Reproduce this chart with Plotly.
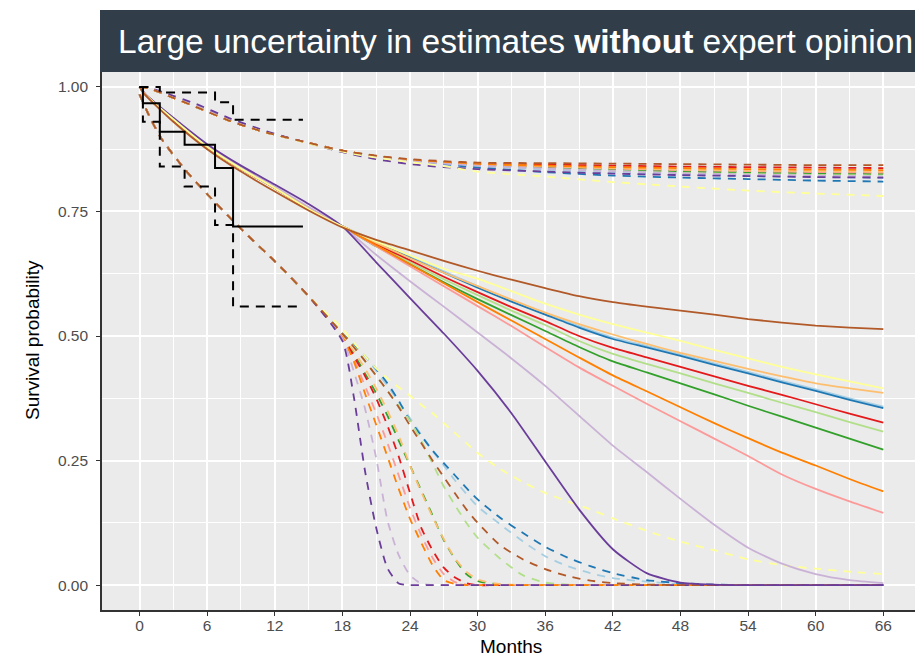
import plotly.graph_objects as go

# ---------------- data ----------------
MODEL_NAMES = ["Model 1", "Model 2", "Model 3", "Model 4", "Model 5", "Model 6",
               "Model 7", "Model 8", "Model 9", "Model 10", "Model 11", "Model 12"]
MODEL_COLORS = ["#A6CEE3", "#1F78B4", "#B2DF8A", "#33A02C", "#FB9A99", "#E31A1C",
                "#FDBF6F", "#FF7F00", "#CAB2D6", "#6A3D9A", "#FFFF99", "#B15928"]

# Kaplan-Meier with confidence limits
KM_T = [0, 0.3, 1.8, 4.0, 6.7, 8.3, 14.5]
KM_S = [1.0, 0.967, 0.91, 0.884, 0.837, 0.72, 0.72]
KM_UPPER = [1.0, 1.0, 0.989, 0.989, 0.969, 0.934, 0.934]
KM_LOWER = [1.0, 0.93, 0.84, 0.80, 0.723, 0.559, 0.559]

# Point estimates (solid)
T_SOLID = [0, 0.5, 3, 6, 9, 12, 15, 18, 21, 24, 27, 30, 33, 36, 39, 42, 45, 48, 51, 54, 57, 60, 63, 66]
SOLID_1 = [1.0, 0.985, 0.935, 0.88, 0.836, 0.797, 0.755, 0.72, 0.691, 0.66, 0.63, 0.6, 0.572, 0.546, 0.52, 0.497, 0.48, 0.463, 0.445, 0.428, 0.41, 0.393, 0.375, 0.358]
SOLID_2 = [1.0, 0.985, 0.935, 0.88, 0.836, 0.797, 0.755, 0.72, 0.688, 0.657, 0.627, 0.597, 0.569, 0.543, 0.517, 0.494, 0.477, 0.46, 0.442, 0.425, 0.407, 0.39, 0.372, 0.355]
SOLID_3 = [1.0, 0.985, 0.935, 0.88, 0.836, 0.797, 0.755, 0.72, 0.683, 0.648, 0.614, 0.582, 0.551, 0.522, 0.49, 0.464, 0.444, 0.425, 0.405, 0.386, 0.366, 0.347, 0.327, 0.308]
SOLID_4 = [1.0, 0.985, 0.935, 0.88, 0.836, 0.797, 0.755, 0.72, 0.68, 0.644, 0.608, 0.574, 0.542, 0.51, 0.478, 0.449, 0.427, 0.405, 0.383, 0.36, 0.338, 0.316, 0.294, 0.272]
SOLID_5 = [1.0, 0.985, 0.935, 0.88, 0.836, 0.797, 0.755, 0.72, 0.68, 0.64, 0.6, 0.56, 0.52, 0.478, 0.437, 0.4, 0.364, 0.329, 0.294, 0.259, 0.222, 0.193, 0.168, 0.145]
SOLID_6 = [1.0, 0.985, 0.935, 0.88, 0.836, 0.797, 0.755, 0.72, 0.685, 0.652, 0.619, 0.588, 0.558, 0.53, 0.5, 0.476, 0.457, 0.438, 0.419, 0.4, 0.382, 0.363, 0.344, 0.326]
SOLID_7 = [1.0, 0.985, 0.935, 0.88, 0.836, 0.797, 0.755, 0.72, 0.687, 0.656, 0.627, 0.6, 0.573, 0.547, 0.524, 0.503, 0.484, 0.466, 0.45, 0.434, 0.419, 0.405, 0.395, 0.386]
SOLID_8 = [1.0, 0.985, 0.935, 0.88, 0.836, 0.797, 0.755, 0.72, 0.682, 0.644, 0.606, 0.568, 0.531, 0.494, 0.457, 0.421, 0.389, 0.357, 0.325, 0.295, 0.266, 0.24, 0.213, 0.188]
SOLID_9 = [1.0, 0.985, 0.936, 0.882, 0.839, 0.8, 0.759, 0.72, 0.663, 0.61, 0.559, 0.507, 0.455, 0.4, 0.34, 0.28, 0.227, 0.173, 0.121, 0.075, 0.043, 0.022, 0.01, 0.004]
SOLID_10 = [1.0, 0.986, 0.938, 0.885, 0.842, 0.804, 0.765, 0.72, 0.648, 0.576, 0.505, 0.43, 0.345, 0.248, 0.152, 0.072, 0.024, 0.005, 0.001, 0.0, 0.0, 0.0, 0.0, 0.0]
SOLID_11 = [1.0, 0.985, 0.935, 0.88, 0.836, 0.797, 0.755, 0.72, 0.69, 0.662, 0.635, 0.615, 0.59, 0.565, 0.543, 0.524, 0.507, 0.49, 0.472, 0.455, 0.438, 0.423, 0.409, 0.395]
SOLID_12 = [1.0, 0.984, 0.93, 0.875, 0.83, 0.79, 0.752, 0.718, 0.693, 0.672, 0.651, 0.631, 0.613, 0.596, 0.58, 0.568, 0.559, 0.551, 0.543, 0.534, 0.527, 0.521, 0.517, 0.514]

# Upper limits (dashed, top group)
T_UPPER = [0, 1, 3, 5, 8, 11, 14, 18, 21, 24, 27, 30, 36, 42, 48, 54, 60, 66]
UPPER_1 = [1.0, 0.996, 0.978, 0.96, 0.932, 0.91, 0.893, 0.872, 0.861, 0.853, 0.848, 0.841, 0.834, 0.828, 0.824, 0.821, 0.819, 0.817]
UPPER_2 = [1.0, 0.996, 0.978, 0.96, 0.932, 0.91, 0.893, 0.872, 0.861, 0.852, 0.845, 0.838, 0.829, 0.822, 0.818, 0.815, 0.812, 0.81]
UPPER_3 = [1.0, 0.996, 0.978, 0.96, 0.932, 0.91, 0.893, 0.872, 0.861, 0.853, 0.848, 0.843, 0.838, 0.833, 0.829, 0.827, 0.825, 0.824]
UPPER_4 = [1.0, 0.996, 0.978, 0.96, 0.932, 0.91, 0.893, 0.872, 0.861, 0.853, 0.848, 0.844, 0.839, 0.835, 0.831, 0.829, 0.827, 0.826]
UPPER_5 = [1.0, 0.996, 0.978, 0.96, 0.932, 0.91, 0.893, 0.872, 0.861, 0.853, 0.848, 0.844, 0.84, 0.836, 0.833, 0.831, 0.829, 0.828]
UPPER_6 = [1.0, 0.996, 0.978, 0.96, 0.932, 0.91, 0.893, 0.872, 0.861, 0.854, 0.849, 0.846, 0.844, 0.842, 0.84, 0.839, 0.838, 0.837]
UPPER_7 = [1.0, 0.996, 0.978, 0.96, 0.932, 0.91, 0.893, 0.872, 0.861, 0.853, 0.848, 0.845, 0.841, 0.837, 0.834, 0.832, 0.831, 0.83]
UPPER_8 = [1.0, 0.996, 0.978, 0.96, 0.932, 0.91, 0.893, 0.872, 0.861, 0.854, 0.849, 0.845, 0.842, 0.839, 0.837, 0.835, 0.834, 0.833]
UPPER_9 = [1.0, 0.996, 0.979, 0.962, 0.934, 0.911, 0.893, 0.871, 0.859, 0.851, 0.846, 0.842, 0.836, 0.831, 0.827, 0.824, 0.822, 0.82]
UPPER_10 = [1.0, 0.997, 0.982, 0.966, 0.937, 0.913, 0.893, 0.869, 0.855, 0.845, 0.839, 0.835, 0.83, 0.826, 0.823, 0.821, 0.819, 0.818]
UPPER_11 = [1.0, 0.996, 0.978, 0.96, 0.932, 0.91, 0.892, 0.87, 0.858, 0.849, 0.841, 0.83, 0.82, 0.809, 0.8, 0.792, 0.786, 0.781]
UPPER_12 = [1.0, 0.996, 0.978, 0.96, 0.932, 0.91, 0.893, 0.872, 0.862, 0.855, 0.851, 0.848, 0.847, 0.846, 0.845, 0.844, 0.843, 0.843]

# Lower limits (dashed, bottom group)
T_LOWER = [0, 1, 2, 4, 6, 9, 12, 15, 18, 19, 20, 21, 22, 23, 24, 25, 26, 27, 28, 29, 30, 32, 34, 36, 38, 40, 42, 45, 48, 51, 54, 57, 60, 63, 66]
LOWER_1 = [0.985, 0.935, 0.894, 0.835, 0.785, 0.715, 0.65, 0.58, 0.505, 0.483, 0.46, 0.43, 0.4, 0.368, 0.335, 0.302, 0.27, 0.24, 0.21, 0.183, 0.158, 0.122, 0.088, 0.058, 0.038, 0.024, 0.014, 0.007, 0.002, 0.0, 0.0, 0.0, 0.0, 0.0, 0.0]
LOWER_2 = [0.985, 0.935, 0.894, 0.835, 0.785, 0.715, 0.65, 0.58, 0.505, 0.483, 0.46, 0.434, 0.405, 0.37, 0.33, 0.3, 0.27, 0.245, 0.22, 0.195, 0.172, 0.135, 0.105, 0.077, 0.055, 0.038, 0.024, 0.01, 0.004, 0.001, 0.0, 0.0, 0.0, 0.0, 0.0]
LOWER_3 = [0.985, 0.935, 0.894, 0.835, 0.785, 0.715, 0.65, 0.58, 0.505, 0.48, 0.45, 0.42, 0.39, 0.36, 0.33, 0.29, 0.244, 0.198, 0.16, 0.125, 0.095, 0.053, 0.02, 0.005, 0.001, 0.0, 0.0, 0.0, 0.0, 0.0, 0.0, 0.0, 0.0, 0.0, 0.0]
LOWER_4 = [0.985, 0.935, 0.894, 0.835, 0.785, 0.715, 0.65, 0.58, 0.5, 0.465, 0.425, 0.385, 0.34, 0.29, 0.24, 0.19, 0.14, 0.09, 0.052, 0.022, 0.008, 0.001, 0.0, 0.0, 0.0, 0.0, 0.0, 0.0, 0.0, 0.0, 0.0, 0.0, 0.0, 0.0, 0.0]
LOWER_5 = [0.985, 0.935, 0.894, 0.835, 0.785, 0.715, 0.65, 0.58, 0.498, 0.455, 0.4, 0.345, 0.285, 0.22, 0.155, 0.1, 0.055, 0.022, 0.006, 0.001, 0.0, 0.0, 0.0, 0.0, 0.0, 0.0, 0.0, 0.0, 0.0, 0.0, 0.0, 0.0, 0.0, 0.0, 0.0]
LOWER_6 = [0.985, 0.935, 0.894, 0.835, 0.785, 0.715, 0.65, 0.58, 0.5, 0.46, 0.42, 0.375, 0.32, 0.258, 0.185, 0.115, 0.07, 0.035, 0.015, 0.004, 0.0, 0.0, 0.0, 0.0, 0.0, 0.0, 0.0, 0.0, 0.0, 0.0, 0.0, 0.0, 0.0, 0.0, 0.0]
LOWER_7 = [0.985, 0.935, 0.894, 0.835, 0.785, 0.715, 0.65, 0.58, 0.5, 0.47, 0.435, 0.395, 0.35, 0.3, 0.24, 0.187, 0.137, 0.092, 0.053, 0.027, 0.011, 0.002, 0.0, 0.0, 0.0, 0.0, 0.0, 0.0, 0.0, 0.0, 0.0, 0.0, 0.0, 0.0, 0.0]
LOWER_8 = [0.985, 0.935, 0.894, 0.835, 0.785, 0.715, 0.65, 0.58, 0.497, 0.45, 0.385, 0.322, 0.258, 0.193, 0.133, 0.085, 0.04, 0.01, 0.002, 0.0, 0.0, 0.0, 0.0, 0.0, 0.0, 0.0, 0.0, 0.0, 0.0, 0.0, 0.0, 0.0, 0.0, 0.0, 0.0]
LOWER_9 = [0.985, 0.935, 0.894, 0.835, 0.785, 0.715, 0.65, 0.58, 0.495, 0.43, 0.355, 0.255, 0.13, 0.06, 0.02, 0.003, 0.0, 0.0, 0.0, 0.0, 0.0, 0.0, 0.0, 0.0, 0.0, 0.0, 0.0, 0.0, 0.0, 0.0, 0.0, 0.0, 0.0, 0.0, 0.0]
LOWER_10 = [0.985, 0.935, 0.894, 0.835, 0.785, 0.715, 0.65, 0.58, 0.49, 0.38, 0.23, 0.115, 0.034, 0.003, 0.0, 0.0, 0.0, 0.0, 0.0, 0.0, 0.0, 0.0, 0.0, 0.0, 0.0, 0.0, 0.0, 0.0, 0.0, 0.0, 0.0, 0.0, 0.0, 0.0, 0.0]
LOWER_11 = [0.985, 0.935, 0.894, 0.835, 0.785, 0.715, 0.65, 0.58, 0.515, 0.487, 0.46, 0.435, 0.415, 0.397, 0.38, 0.362, 0.345, 0.325, 0.305, 0.285, 0.265, 0.233, 0.207, 0.185, 0.168, 0.152, 0.134, 0.109, 0.087, 0.07, 0.052, 0.04, 0.033, 0.027, 0.022]
LOWER_12 = [0.985, 0.935, 0.894, 0.835, 0.785, 0.715, 0.65, 0.58, 0.505, 0.478, 0.45, 0.42, 0.39, 0.357, 0.32, 0.285, 0.25, 0.217, 0.184, 0.152, 0.125, 0.08, 0.052, 0.032, 0.018, 0.009, 0.004, 0.001, 0.0, 0.0, 0.0, 0.0, 0.0, 0.0, 0.0]

X_TICKS = [0, 6, 12, 18, 24, 30, 36, 42, 48, 54, 60, 66]
X_MINOR = [3, 9, 15, 21, 27, 33, 39, 45, 51, 57, 63]
Y_TICKS = [0.0, 0.25, 0.5, 0.75, 1.0]
Y_TICK_TEXT = ["0.00", "0.25", "0.50", "0.75", "1.00"]
Y_MINOR = [0.125, 0.375, 0.625, 0.875]

TITLE_HTML = "Large uncertainty in estimates <b>without</b> expert opinion"
X_TITLE = "Months"
Y_TITLE = "Survival probability"

SOLIDS = [SOLID_1, SOLID_2, SOLID_3, SOLID_4, SOLID_5, SOLID_6,
          SOLID_7, SOLID_8, SOLID_9, SOLID_10, SOLID_11, SOLID_12]
UPPERS = [UPPER_1, UPPER_2, UPPER_3, UPPER_4, UPPER_5, UPPER_6,
          UPPER_7, UPPER_8, UPPER_9, UPPER_10, UPPER_11, UPPER_12]
LOWERS = [LOWER_1, LOWER_2, LOWER_3, LOWER_4, LOWER_5, LOWER_6,
          LOWER_7, LOWER_8, LOWER_9, LOWER_10, LOWER_11, LOWER_12]

# ---------------- figure ----------------
fig = go.Figure()
DASH = "8px,7px"
LW = 1.8
SMOOTH = 0.6

for name, col, ys in zip(MODEL_NAMES, MODEL_COLORS, UPPERS):
    fig.add_trace(go.Scatter(x=T_UPPER, y=ys, mode="lines", name=name + " upper",
                             line=dict(color=col, width=LW, dash=DASH, shape="spline", smoothing=SMOOTH),
                             showlegend=False))
for name, col, ys in zip(MODEL_NAMES, MODEL_COLORS, LOWERS):
    fig.add_trace(go.Scatter(x=T_LOWER, y=ys, mode="lines", name=name + " lower",
                             line=dict(color=col, width=LW, dash=DASH, shape="spline", smoothing=SMOOTH),
                             showlegend=False))
for name, col, ys in zip(MODEL_NAMES, MODEL_COLORS, SOLIDS):
    fig.add_trace(go.Scatter(x=T_SOLID, y=ys, mode="lines", name=name,
                             line=dict(color=col, width=LW, shape="spline", smoothing=SMOOTH),
                             showlegend=False))

fig.add_trace(go.Scatter(x=KM_T, y=KM_UPPER, mode="lines", line_shape="hv",
                         line=dict(color="black", width=2, dash="9px,7px"), showlegend=False))
fig.add_trace(go.Scatter(x=KM_T, y=KM_LOWER, mode="lines", line_shape="hv",
                         line=dict(color="black", width=2, dash="9px,7px"), showlegend=False))
fig.add_trace(go.Scatter(x=KM_T, y=KM_S, mode="lines", line_shape="hv",
                         line=dict(color="black", width=2), showlegend=False))

W, H = 915, 657
ML, MR, MT, MB = 102, 0, 62, 47
PW, PH = W - ML - MR, H - MT - MB


def px_x(px):
    return (px - ML) / PW


def px_y(py):
    return (H - MB - py) / PH


TICK_FONT = dict(family="Liberation Sans, Arial, sans-serif", size=15.5, color="#4D4D4D")

fig.update_layout(
    width=W, height=H, autosize=False,
    margin=dict(l=ML, r=MR, t=MT, b=MB, pad=0),
    paper_bgcolor="white", plot_bgcolor="#EBEBEB",
    showlegend=False,
    xaxis=dict(range=[-3.33, 68.81], tickvals=X_TICKS, ticks="outside", ticklen=4,
               tickwidth=1.4, tickcolor="#333333", showline=True, linecolor="#333333",
               linewidth=1.6, showgrid=True, gridcolor="white", gridwidth=1.8,
               zeroline=False, tickfont=TICK_FONT, ticklabelstandoff=-3,
               minor=dict(tickvals=X_MINOR, showgrid=True, gridcolor="white", gridwidth=0.8)),
    yaxis=dict(range=[-0.05, 1.05], tickvals=Y_TICKS, ticktext=Y_TICK_TEXT, ticks="outside",
               ticklen=4, tickwidth=1.4, tickcolor="#333333", showline=True,
               linecolor="#333333", linewidth=1.6, showgrid=True, gridcolor="white",
               gridwidth=1.8, zeroline=False, tickfont=TICK_FONT, ticklabelstandoff=5,
               minor=dict(tickvals=Y_MINOR, showgrid=True, gridcolor="white", gridwidth=0.8)),
)

# title banner
fig.add_shape(type="rect", xref="paper", yref="paper",
              x0=px_x(100), x1=px_x(916), y0=px_y(72), y1=px_y(10),
              fillcolor="#313E4A", line=dict(width=0), layer="above")
fig.add_annotation(xref="paper", yref="paper", x=px_x(515), y=px_y(42),
                   text=TITLE_HTML, showarrow=False, xanchor="center", yanchor="middle",
                   font=dict(family="Liberation Sans, Arial, sans-serif", size=33.5, color="white"))

# axis titles
fig.add_annotation(xref="paper", yref="paper", x=px_x(511), y=px_y(647),
                   text=X_TITLE, showarrow=False, xanchor="center", yanchor="middle",
                   font=dict(family="Liberation Sans, Arial, sans-serif", size=19, color="black"))
fig.add_annotation(xref="paper", yref="paper", x=px_x(32), y=px_y(340),
                   text=Y_TITLE, showarrow=False, textangle=-90, xanchor="center", yanchor="middle",
                   font=dict(family="Liberation Sans, Arial, sans-serif", size=19, color="black"))

fig.write_html("out.html")
